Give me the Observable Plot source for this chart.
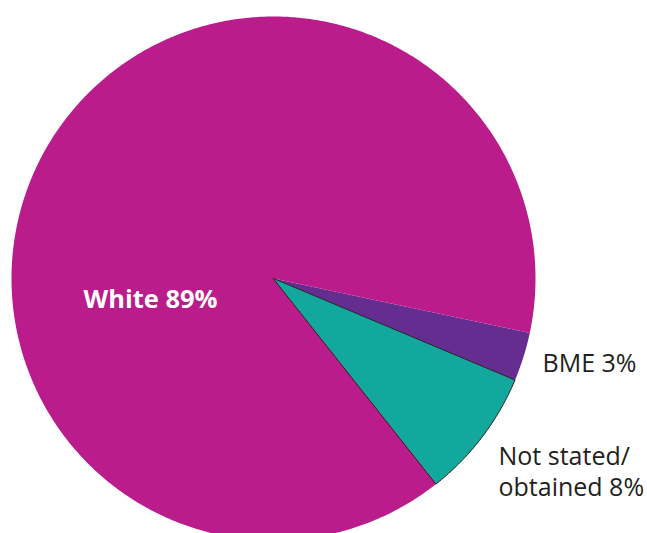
<!DOCTYPE html>
<html>
<head>
<meta charset="utf-8">
<script src="https://cdn.jsdelivr.net/npm/d3@7"></script>
<script src="https://cdn.jsdelivr.net/npm/@observablehq/plot@0.6"></script>
<style>
  html, body { margin: 0; padding: 0; background: #fff; }
  svg { display: block; }
</style>
</head>
<body>
<div id="chart"></div>
<script>
// Data
const categories = ["BME", "Not stated/obtained", "White"];
const values = [3, 8, 89];
const labelTexts = ["BME 3%", "Not stated/\nobtained 8%", "White 89%"];
const colors = ["#662D91", "#13A89E", "#BA1C8C"];

const W = 647, H = 533;
const R = 262, CX = 273, CY = 278;           // pie geometry in pixels
const startDeg = 102;                         // first slice boundary (clockwise from 12 o'clock)

const table = categories.map((c, i) => ({name: c, value: values[i], color: colors[i], label: labelTexts[i]}));
const arcs = d3.pie().sort(null).value(d => d.value)
  .startAngle(startDeg * Math.PI / 180)
  .endAngle(startDeg * Math.PI / 180 + 2 * Math.PI)(table);

// polygon points for each slice, derived from the pie angles
const pts = [];
for (const a of arcs) {
  pts.push({name: a.data.name, color: a.data.color, x: 0, y: 0});
  const n = Math.max(2, Math.ceil((a.endAngle - a.startAngle) / (Math.PI / 360)));
  for (let k = 0; k <= n; k++) {
    const t = a.startAngle + (a.endAngle - a.startAngle) * k / n;
    pts.push({name: a.data.name, color: a.data.color, x: Math.sin(t), y: Math.cos(t)});
  }
}

// pixel -> data helpers for label placement
const dx = p => (p - CX) / R;
const dy = p => (CY - p) / R;

const font = "'Open Sans', 'Noto Sans', sans-serif";

const chart = Plot.plot({
  width: W, height: H,
  marginLeft: CX - R, marginRight: W - (CX + R), marginTop: CY - R, marginBottom: 0,
  x: {domain: [-1, 1], axis: null},
  y: {domain: [-(H - CY) / R, 1], axis: null},
  color: {type: "identity"},
  style: {fontFamily: font},
  marks: [
    Plot.line(pts, {x: "x", y: "y", z: "name", fill: "color", stroke: null, curve: "linear-closed"}),
    Plot.line(pts.filter(d => d.name === "Not stated/obtained"), {x: "x", y: "y", z: "name", fill: "none", stroke: "#231F20", strokeWidth: 1, curve: "linear-closed"}),
    Plot.text([table[2]], {x: () => dx(83), y: () => dy(299), text: "label", textAnchor: "start", lineAnchor: "middle", fill: "#fff", fontWeight: "bold", fontSize: 25.5}),
    Plot.text([table[0]], {x: () => dx(542), y: () => dy(363), text: "label", textAnchor: "start", lineAnchor: "middle", fill: "#231F20", fontSize: 25}),
    Plot.text([table[1]], {x: () => dx(498), y: () => dy(470), text: "label", textAnchor: "start", lineAnchor: "middle", fill: "#231F20", fontSize: 25, lineHeight: 1.24})
  ]
});
document.getElementById("chart").appendChild(chart);
</script>
</body>
</html>
